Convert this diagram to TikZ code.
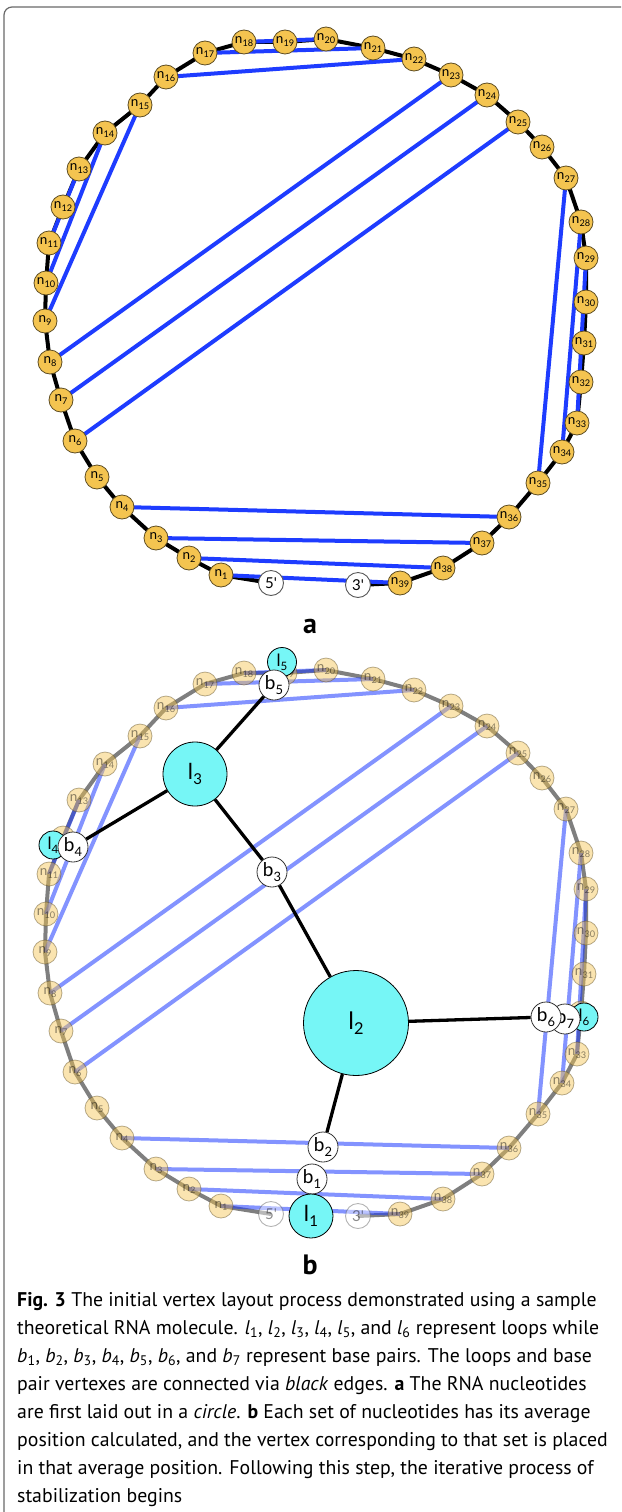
\documentclass[tikz,border=0pt]{standalone}
\usepackage{fontspec}
\setmainfont{PT Sans}
\newfontfamily\vfont{Lato}
\usetikzlibrary{backgrounds}
\pgfdeclarelayer{bottom}
\pgfsetlayers{bottom,background,main}
\definecolor{nucfill}{RGB}{244,196,80}
\definecolor{nucdraw}{RGB}{95,78,35}
\definecolor{bpblue}{RGB}{30,60,255}
\definecolor{loopcyan}{RGB}{118,246,246}
\definecolor{framegray}{RGB}{105,105,105}
\newcommand\sub[2]{#1\kern0.01em\raisebox{-0.22em}{\scalebox{0.68}{#2}}}
\newcommand\nucs{1/221/575,2/189/558,3/156/538,4/122/507,5/97/477,6/75/441,7/61/400,8/50/362,9/45/321,10/46/283,11/49/243,12/63/207,13/79/169,14/105/133,15/140/105,16/166/77,17/205/53,18/244/42,19/285/42,20/326/39,21/373/48,22/414/59,23/451/75,24/487/95,25/518/122,26/542/147,27/566/178,28/581/222,29/586/258,30/586/302,31/584/343,32/581/382,33/577/423,34/562/452,35/538/483,36/509/517,37/482/543,38/443/568,39/400/583}
\newcommand\pairs{1/39,2/38,3/37,4/36,6/25,7/24,8/23,9/15,10/14,11/13,16/22,17/21,18/20,27/35,28/34,29/33}
\tikzset{
  nuc/.style={circle, draw=nucdraw, fill=nucfill, line width=0.8pt, minimum size=24pt, inner sep=0pt, font=\vfont\fontsize{13.5}{13.5}\selectfont},
  endnode/.style={circle, draw=black!65, fill=white, line width=0.9pt, minimum size=25pt, inner sep=0pt, font=\vfont\fontsize{15}{15}\selectfont},
  faded/.style={opacity=0.45},
  backbone/.style={line width=4pt, black, line join=round},
  fbackbone/.style={line width=4pt, black, opacity=0.5, line join=round},
  bpline/.style={line width=4pt, bpblue},
  fbpline/.style={line width=4pt, bpblue, opacity=0.55},
  loopv/.style={circle, draw=black, fill=loopcyan, line width=0.8pt, inner sep=0pt},
  pairv/.style={circle, draw=black!80, fill=white, line width=0.8pt, minimum size=30pt, inner sep=0pt, font=\vfont\fontsize{19}{19}\selectfont},
  treeedge/.style={line width=3.3pt, black},
  panellabel/.style={font=\fontsize{28}{28}\selectfont\bfseries, inner sep=0pt},
  capline/.style={anchor=base west, inner sep=0pt, font=\fontsize{19.8}{19.8}\selectfont}
}
\newcommand\rnapanel[4]{%
  \foreach \i/\x/\y in \nucs {\node[nuc,#2] (#1\i) at (\x,\y) {\sub{n}{\i}};}
  \node[endnode,#2] (#1p5) at (271,583) {5'};
  \node[endnode,#2] (#1p3) at (358,585) {3'};
  \begin{pgfonlayer}{background}
    \draw[#3] (#1p5.center) foreach \i in {1,...,39} {-- (#1\i.center)} -- (#1p3.center);
    \foreach \u/\v in \pairs {\draw[#4] (#1\u.center) -- (#1\v.center);}
  \end{pgfonlayer}}
\begin{document}
\begin{tikzpicture}[x=1pt,y=-1pt]
\useasboundingbox (0,0) rectangle (621,1512);
\begin{pgfonlayer}{bottom}
\fill[white] (0,0) rectangle (621,1512);
\end{pgfonlayer}
\draw[framegray, line width=1.2pt, rounded corners=8pt] (4,1512) -- (4,7) -- (621,7);

% panel a
\rnapanel{na}{}{backbone}{bpline}
\node[panellabel] (laba) at (310,626) {a};

% panel b
\begin{scope}[shift={(0,631)}]
\rnapanel{nb}{faded}{fbackbone}{fbpline}
\end{scope}
\node[loopv, minimum size=29pt, font=\vfont\fontsize{17}{17}\selectfont] (lp5) at (282,662) {\sub{l}{5}};
\node[pairv] (bp5) at (274,685) {\sub{b}{5}};
\node[loopv, minimum size=64pt, font=\vfont\fontsize{22}{22}\selectfont] (lp3) at (195,774) {\sub{l}{3}};
\node[loopv, minimum size=28pt, font=\vfont\fontsize{17}{17}\selectfont] (lp4) at (53,845) {\sub{l}{4}};
\node[pairv] (bp4) at (73,847) {\sub{b}{4}};
\node[pairv] (bp3) at (272,872) {\sub{b}{3}};
\node[loopv, minimum size=105pt, font=\vfont\fontsize{24}{24}\selectfont] (lp2) at (356,1023) {\sub{l}{2}};
\node[loopv, minimum size=28pt, font=\vfont\fontsize{17}{17}\selectfont] (lp6) at (584,1017) {\sub{l}{6}};
\node[pairv] (bp7) at (565,1019) {\sub{b}{7}};
\node[pairv] (bp6) at (546,1017) {\sub{b}{6}};
\node[pairv] (bp2) at (323,1147) {\sub{b}{2}};
\node[pairv] (bp1) at (312,1179) {\sub{b}{1}};
\node[loopv, minimum size=44pt, font=\vfont\fontsize{22}{22}\selectfont] (lp1) at (311,1216) {\sub{l}{1}};
\draw[treeedge] (bp5) -- (lp3);
\draw[treeedge] (lp3) -- (bp4);
\draw[treeedge] (lp3) -- (bp3);
\draw[treeedge] (bp3) -- (lp2);
\draw[treeedge] (lp2) -- (bp6);
\draw[treeedge] (lp2) -- (bp2);
\node[panellabel] (labb) at (310,1265) {b};

% caption
\node[capline] (cap1) at (17,1306) {\textbf{Fig. 3} The initial vertex layout process demonstrated using a sample};
\node[capline] (cap2) at (17,1334) {theoretical RNA molecule. \textit{l}\textsubscript{1}, \textit{l}\textsubscript{2}, \textit{l}\textsubscript{3}, \textit{l}\textsubscript{4}, \textit{l}\textsubscript{5}, and \textit{l}\textsubscript{6} represent loops while};
\node[capline] (cap3) at (17,1362) {\textit{b}\textsubscript{1}, \textit{b}\textsubscript{2}, \textit{b}\textsubscript{3}, \textit{b}\textsubscript{4}, \textit{b}\textsubscript{5}, \textit{b}\textsubscript{6}, and \textit{b}\textsubscript{7} represent base pairs. The loops and base};
\node[capline] (cap4) at (17,1390) {pair vertexes are connected via \textit{black} edges. \textbf{a} The RNA nucleotides};
\node[capline] (cap5) at (17,1418) {are first laid out in a \textit{circle}. \textbf{b} Each set of nucleotides has its average};
\node[capline] (cap6) at (17,1446) {position calculated, and the vertex corresponding to that set is placed};
\node[capline] (cap7) at (17,1474) {in that average position. Following this step, the iterative process of};
\node[capline] (cap8) at (17,1502) {stabilization begins};
\end{tikzpicture}
\end{document}
